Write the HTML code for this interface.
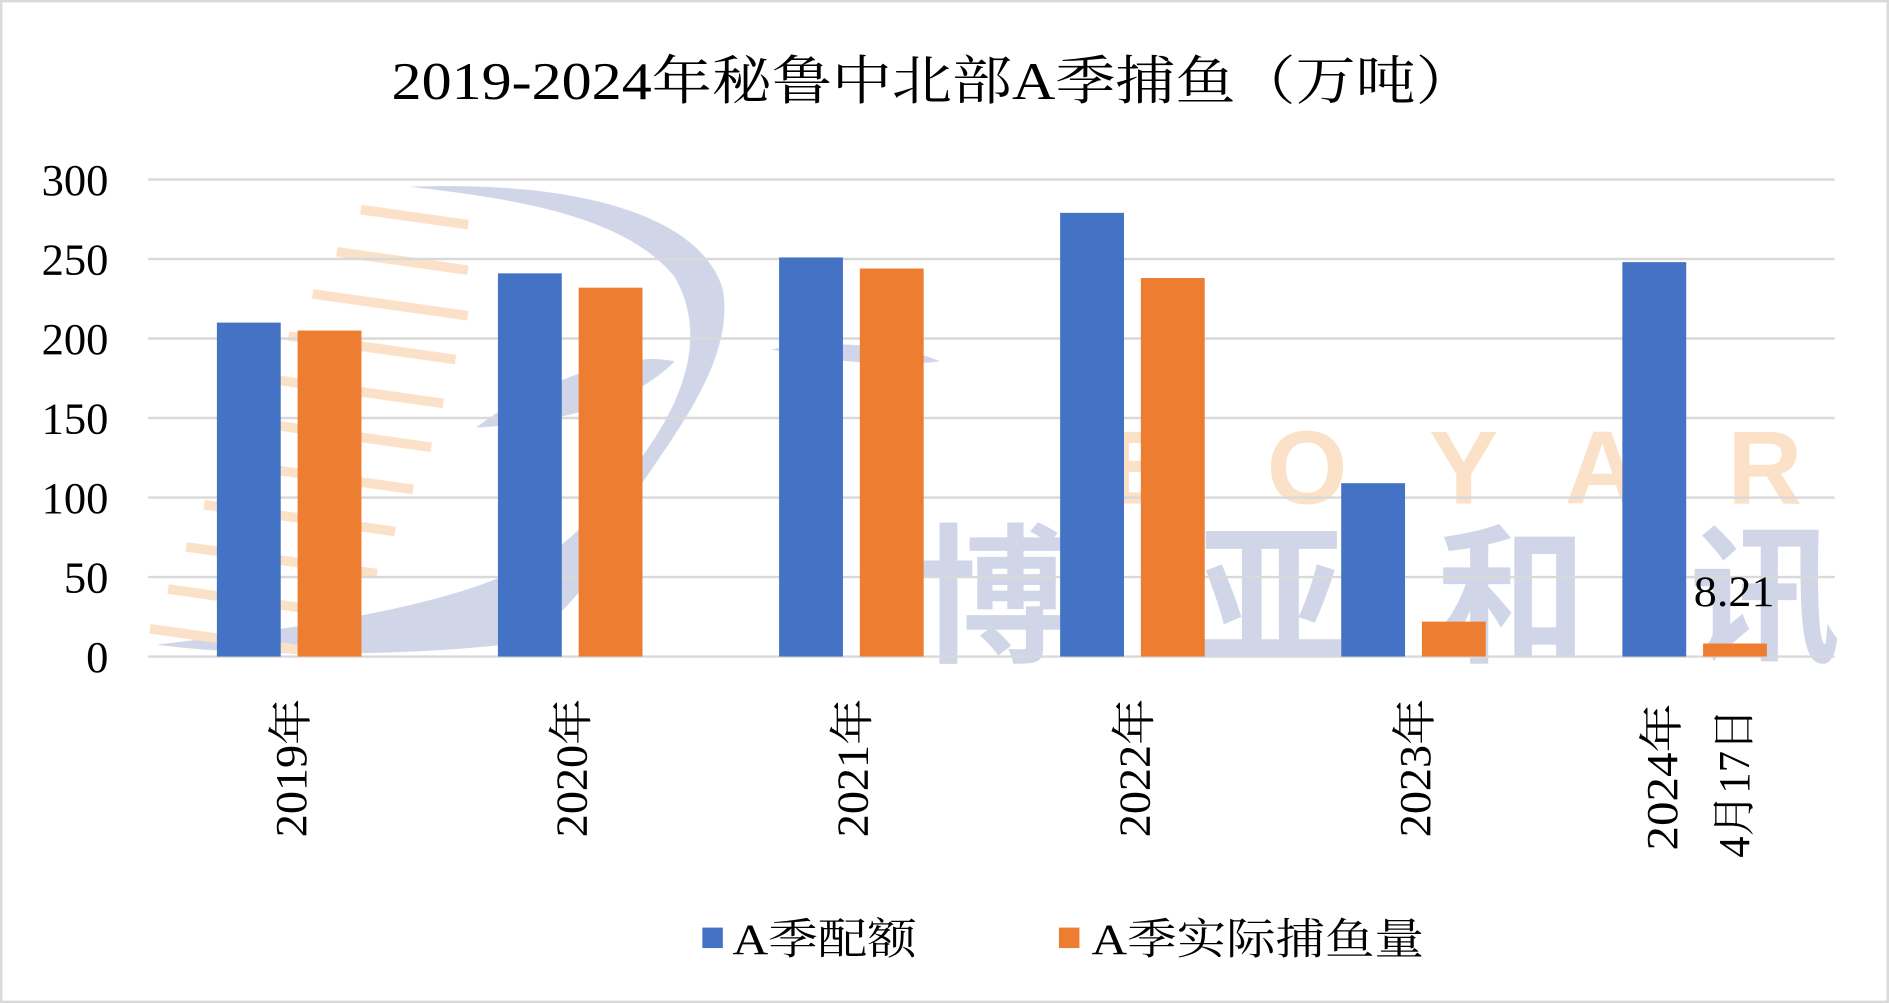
<!DOCTYPE html>
<html><head><meta charset="utf-8"><style>html,body{margin:0;padding:0;background:#fff}svg{display:block}</style></head>
<body>
<svg width="1889" height="1003" viewBox="0 0 1568 832.6" xmlns="http://www.w3.org/2000/svg" font-family="'Liberation Serif','Noto Serif CJK SC',serif">
<rect x="0" y="0" width="1568" height="832.6" fill="#fff"/>
<rect x="1" y="1" width="1566" height="830.6" fill="none" stroke="#d9d9d9" stroke-width="2"/>
<g opacity="0.55">
<path d="M340 155 C470 150 580 175 600 240 C610 300 560 360 520 420 C500 470 470 520 420 535 C330 545 200 545 130 535 C260 520 420 500 480 440 C540 380 600 300 560 230 C520 180 430 165 340 155 Z" fill="#a9b5d6"/>
<path d="M395 355 C440 320 520 290 560 300 C530 330 480 350 395 355 Z" fill="#a9b5d6"/>
<path d="M640 290 C700 280 760 290 780 300 C740 305 690 300 640 290 Z" fill="#a9b5d6"/>
<g fill="#f8c99a">
<rect x="300" y="170" width="90" height="8" transform="rotate(8 300 170)"/>
<rect x="280" y="205" width="110" height="8" transform="rotate(8 280 205)"/>
<rect x="260" y="240" width="130" height="8" transform="rotate(8 260 240)"/>
<rect x="240" y="275" width="140" height="8" transform="rotate(8 240 275)"/>
<rect x="220" y="310" width="150" height="8" transform="rotate(8 220 310)"/>
<rect x="200" y="345" width="160" height="8" transform="rotate(8 200 345)"/>
<rect x="185" y="380" width="160" height="8" transform="rotate(8 185 380)"/>
<rect x="170" y="415" width="160" height="8" transform="rotate(8 170 415)"/>
<rect x="155" y="450" width="160" height="8" transform="rotate(8 155 450)"/>
<rect x="140" y="485" width="150" height="8" transform="rotate(8 140 485)"/>
<rect x="125" y="518" width="130" height="8" transform="rotate(8 125 518)"/>
</g>
<g font-family="'Liberation Sans','Noto Sans CJK SC',sans-serif" font-weight="bold" fill="#f8c99a" font-size="86">
<text x="950" y="418" text-anchor="middle">B</text>
<text x="1085" y="418" text-anchor="middle">O</text>
<text x="1215" y="418" text-anchor="middle">Y</text>
<text x="1330" y="418" text-anchor="middle">A</text>
<text x="1465" y="418" text-anchor="middle">R</text>
</g>
<g font-family="'Noto Sans CJK SC',sans-serif" font-weight="bold" fill="#a9b5d6" font-size="125">
<text x="825" y="540" text-anchor="middle">博</text>
<text x="1055" y="540" text-anchor="middle">亚</text>
<text x="1255" y="540" text-anchor="middle">和</text>
<text x="1465" y="540" text-anchor="middle">讯</text>
</g>
</g>
<g stroke="#d9d9d9" stroke-width="2">
<line x1="123" x2="1523" y1="149" y2="149"/>
<line x1="123" x2="1523" y1="215" y2="215"/>
<line x1="123" x2="1523" y1="281" y2="281"/>
<line x1="123" x2="1523" y1="347" y2="347"/>
<line x1="123" x2="1523" y1="413" y2="413"/>
<line x1="123" x2="1523" y1="479" y2="479"/>
<line x1="123" x2="1523" y1="545" y2="545"/>
</g>
<g font-size="37" text-anchor="end" fill="#000">
<text x="90" y="162">300</text>
<text x="90" y="228">250</text>
<text x="90" y="294">200</text>
<text x="90" y="360">150</text>
<text x="90" y="426">100</text>
<text x="90" y="492">50</text>
<text x="90" y="558">0</text>
</g>
<g fill="#4472c4">
<rect x="180" y="267.8" width="53" height="277.2"/>
<rect x="413.3" y="226.9" width="53" height="318.1"/>
<rect x="646.7" y="213.7" width="53" height="331.3"/>
<rect x="880" y="176.7" width="53" height="368.3"/>
<rect x="1113.3" y="401.1" width="53" height="143.9"/>
<rect x="1346.7" y="217.6" width="53" height="327.4"/>
</g>
<g fill="#ed7d31">
<rect x="247" y="274.4" width="53" height="270.6"/>
<rect x="480.3" y="238.8" width="53" height="306.2"/>
<rect x="713.7" y="222.9" width="53" height="322.1"/>
<rect x="947" y="230.8" width="53" height="314.2"/>
<rect x="1180.3" y="516" width="53" height="29"/>
<rect x="1413.7" y="534.2" width="53" height="10.8"/>
</g>
<text x="1406" y="503" font-size="36" textLength="67" lengthAdjust="spacingAndGlyphs">8.21</text>
<g font-size="37">
<text transform="translate(254 695) rotate(-90)" textLength="115" lengthAdjust="spacingAndGlyphs">2019年</text>
<text transform="translate(487 695) rotate(-90)" textLength="115" lengthAdjust="spacingAndGlyphs">2020年</text>
<text transform="translate(720 695) rotate(-90)" textLength="115" lengthAdjust="spacingAndGlyphs">2021年</text>
<text transform="translate(954 695) rotate(-90)" textLength="115" lengthAdjust="spacingAndGlyphs">2022年</text>
<text transform="translate(1187 695) rotate(-90)" textLength="115" lengthAdjust="spacingAndGlyphs">2023年</text>
<text transform="translate(1392 706) rotate(-90)" textLength="122" lengthAdjust="spacingAndGlyphs">2024年</text>
<text transform="translate(1452 712) rotate(-90)" textLength="124" lengthAdjust="spacingAndGlyphs">4月17日</text>
</g>
<text x="325" y="82" font-size="44" textLength="900" lengthAdjust="spacingAndGlyphs">2019-2024年秘鲁中北部A季捕鱼（万吨）</text>
<rect x="583" y="770" width="17" height="17" fill="#4472c4"/>
<text x="608" y="792" font-size="36" textLength="153" lengthAdjust="spacingAndGlyphs">A季配额</text>
<rect x="879" y="770" width="17" height="17" fill="#ed7d31"/>
<text x="906" y="792" font-size="36" textLength="276" lengthAdjust="spacingAndGlyphs">A季实际捕鱼量</text>
</svg>
</body></html>
